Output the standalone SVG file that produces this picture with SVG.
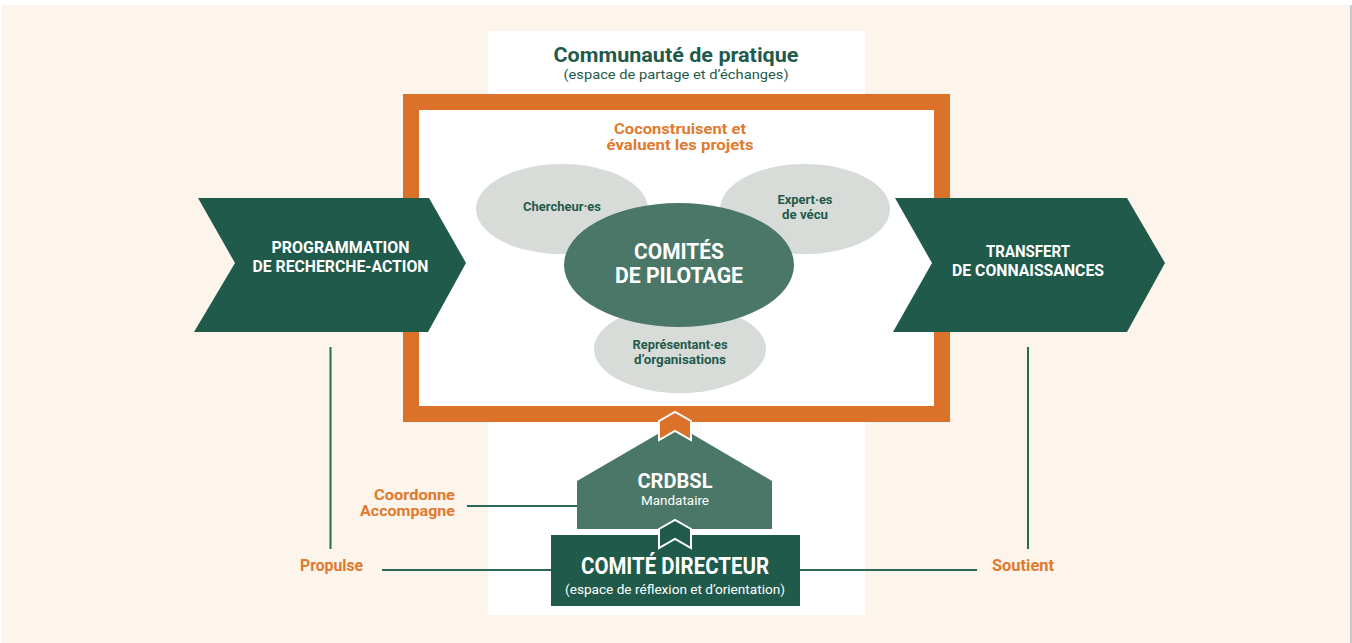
<svg xmlns="http://www.w3.org/2000/svg" width="1352" height="643" viewBox="0 0 1352 643">
  <style>
    text { font-family: "Liberation Sans Narrow", Roboto, "Liberation Sans", sans-serif; font-weight: bold; text-anchor: middle; }
    .dk { fill: #1f5a4b; }
    .mid { fill: #4a7767; }
    .grey { fill: #d8dcd9; }
    .white { fill: #ffffff; }
    .orange { fill: #e07a2f; }
    .reg { font-weight: normal; }
    .link { stroke: #2c6757; stroke-width: 2; fill: none; }
    .chev { stroke: #ffffff; stroke-width: 2; stroke-linejoin: miter; }
  </style>

  <!-- page background -->
  <rect x="0" y="0" width="1352" height="643" fill="#ffffff"/>
  <rect x="2" y="5" width="1348" height="638" fill="#fdf4eb"/>
  <rect x="1350" y="5" width="2" height="638" fill="#c9c9c9"/>

  <!-- community of practice column -->
  <g id="communaute">
    <rect x="488" y="31" width="377" height="584" fill="#ffffff"/>
    <text x="676" y="62" font-size="21" class="dk" textLength="245" lengthAdjust="spacingAndGlyphs">Communauté de pratique</text>
    <text x="676" y="79" font-size="13.5" class="dk reg" textLength="225" lengthAdjust="spacingAndGlyphs">(espace de partage et d’échanges)</text>
  </g>

  <!-- connectors -->
  <g id="connectors">
    <line class="link" x1="680" y1="163" x2="680" y2="187"/>
    <line class="link" x1="330.5" y1="347" x2="330.5" y2="549"/>
    <line class="link" x1="1028" y1="347" x2="1028" y2="549"/>
    <line class="link" x1="382" y1="570" x2="551" y2="570"/>
    <line class="link" x1="800" y1="570" x2="977" y2="570"/>
    <line class="link" x1="467" y1="506" x2="577" y2="506"/>
  </g>

  <!-- steering committees frame -->
  <g id="cadre-pilotage">
    <rect x="411" y="102" width="531" height="312" fill="#ffffff" stroke="#dc7229" stroke-width="16"/>
    <text x="680" y="134" font-size="15" class="orange" textLength="132" lengthAdjust="spacingAndGlyphs">Coconstruisent et</text>
    <text x="680" y="150" font-size="15" class="orange" textLength="147" lengthAdjust="spacingAndGlyphs">évaluent les projets</text>
  </g>

  <g id="chercheurs">
    <ellipse cx="562" cy="209" rx="86" ry="45" class="grey"/>
    <text x="562" y="211" font-size="13.5" class="dk" textLength="78" lengthAdjust="spacingAndGlyphs">Chercheur·es</text>
  </g>

  <g id="experts">
    <ellipse cx="805" cy="209" rx="85" ry="45" class="grey"/>
    <text x="805" y="204" font-size="13" class="dk" textLength="55" lengthAdjust="spacingAndGlyphs">Expert·es</text>
    <text x="805" y="219" font-size="13" class="dk" textLength="46" lengthAdjust="spacingAndGlyphs">de vécu</text>
  </g>

  <g id="representants">
    <ellipse cx="680" cy="349" rx="86" ry="44" class="grey"/>
    <text x="680" y="349" font-size="13" class="dk" textLength="95" lengthAdjust="spacingAndGlyphs">Représentant·es</text>
    <text x="680" y="364" font-size="13" class="dk" textLength="92" lengthAdjust="spacingAndGlyphs">d’organisations</text>
  </g>

  <g id="comites-pilotage">
    <ellipse cx="679" cy="265" rx="115" ry="62" class="mid"/>
    <text x="679" y="259" font-size="22" class="white" textLength="90" lengthAdjust="spacingAndGlyphs">COMITÉS</text>
    <text x="679" y="283" font-size="22" class="white" textLength="128" lengthAdjust="spacingAndGlyphs">DE PILOTAGE</text>
  </g>

  <!-- side chevrons -->
  <g id="programmation">
    <polygon points="198,198 429,198 466,263 428,332 194,332 235,263" class="dk"/>
    <text x="340.5" y="253" font-size="16.5" class="white" textLength="138" lengthAdjust="spacingAndGlyphs">PROGRAMMATION</text>
    <text x="340.5" y="272" font-size="16.5" class="white" textLength="176" lengthAdjust="spacingAndGlyphs">DE RECHERCHE-ACTION</text>
  </g>

  <g id="transfert">
    <polygon points="895,198 1127,198 1165,263 1127,332 893,332 932,263" class="dk"/>
    <text x="1028" y="257" font-size="16.5" class="white" textLength="84" lengthAdjust="spacingAndGlyphs">TRANSFERT</text>
    <text x="1028" y="276" font-size="16.5" class="white" textLength="152" lengthAdjust="spacingAndGlyphs">DE CONNAISSANCES</text>
  </g>

  <!-- mandated body -->
  <g id="crdbsl">
    <polygon points="577,481 675,424 772,481 772,529 577,529" class="mid"/>
    <polygon points="659,421 675,412 691,421 691,440 675,431 659,440" fill="#dc7229" class="chev"/>
    <text x="675" y="488" font-size="21" class="white" textLength="75" lengthAdjust="spacingAndGlyphs">CRDBSL</text>
    <text x="675" y="505" font-size="12.5" class="white reg" textLength="68" lengthAdjust="spacingAndGlyphs">Mandataire</text>
  </g>

  <g id="comite-directeur">
    <rect x="551" y="535" width="249" height="71" class="dk"/>
    <polygon points="659,529 675,520 691,529 691,548 675,539 659,548" class="dk chev"/>
    <text x="675" y="574" font-size="23" class="white" textLength="188" lengthAdjust="spacingAndGlyphs">COMITÉ DIRECTEUR</text>
    <text x="675" y="594" font-size="13" class="white reg" textLength="220" lengthAdjust="spacingAndGlyphs">(espace de réflexion et d’orientation)</text>
  </g>

  <!-- connector labels -->
  <g id="labels">
    <text x="455" y="500" font-size="14.5" class="orange" style="text-anchor:end" textLength="81" lengthAdjust="spacingAndGlyphs">Coordonne</text>
    <text x="455" y="516" font-size="14.5" class="orange" style="text-anchor:end" textLength="95" lengthAdjust="spacingAndGlyphs">Accompagne</text>
    <text x="300" y="571" font-size="16" class="orange" style="text-anchor:start" textLength="63" lengthAdjust="spacingAndGlyphs">Propulse</text>
    <text x="992" y="571" font-size="16" class="orange" style="text-anchor:start" textLength="62" lengthAdjust="spacingAndGlyphs">Soutient</text>
  </g>
</svg>
